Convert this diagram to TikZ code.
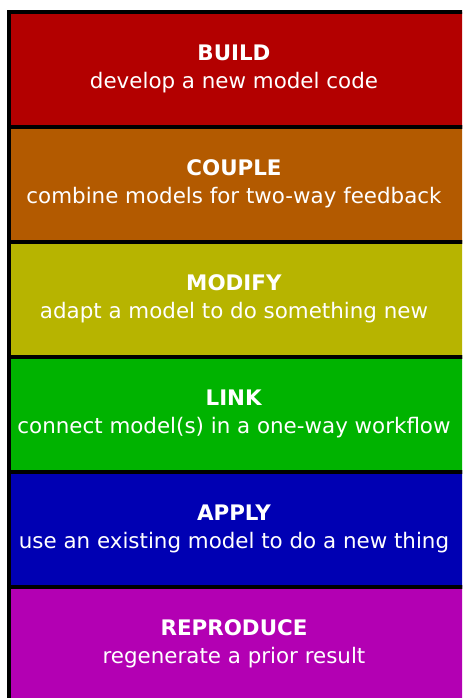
\documentclass[tikz,border=0pt]{standalone}
\usepackage{fontspec}
\setmainfont{DejaVu Sans}
\usepackage{tikz}
\definecolor{buildred}{RGB}{179,0,0}
\definecolor{coupleorange}{RGB}{179,90,0}
\definecolor{modifyyellow}{RGB}{183,180,0}
\definecolor{linkgreen}{RGB}{0,179,0}
\definecolor{applyblue}{RGB}{0,0,179}
\definecolor{reproducepurple}{RGB}{179,0,179}

\begin{document}
\begin{tikzpicture}[x=0.5pt, y=-0.5pt,
    layertext/.style={text=white, align=center, font=\fontsize{10.7}{14}\selectfont}]
      \clip (0, 0) rectangle (462, 698);
      \draw[line width=2.2pt, fill=buildred] (9, 11.75) rectangle (480, 126.75);
      \node[layertext] (build) at (234, 69.25) {\textbf{BUILD}\\develop a new model code};
      \draw[line width=2.2pt, fill=coupleorange] (9, 126.75) rectangle (480, 241.75);
      \node[layertext] (couple) at (234, 184.25) {\textbf{COUPLE}\\combine models for two-way feedback};
      \draw[line width=2.2pt, fill=modifyyellow] (9, 241.75) rectangle (480, 356.75);
      \node[layertext] (modify) at (234, 299.25) {\textbf{MODIFY}\\adapt a model to do something new};
      \draw[line width=2.2pt, fill=linkgreen] (9, 356.75) rectangle (480, 471.75);
      \node[layertext] (link) at (234, 414.25) {\textbf{LINK}\\connect model(s) in a one-way workflow};
      \draw[line width=2.2pt, fill=applyblue] (9, 471.75) rectangle (480, 586.75);
      \node[layertext] (apply) at (234, 529.25) {\textbf{APPLY}\\use an existing model to do a new thing};
      \draw[line width=2.2pt, fill=reproducepurple] (9, 586.75) rectangle (480, 701.75);
      \node[layertext] (reproduce) at (234, 644.25) {\textbf{REPRODUCE}\\regenerate a prior result};
    \end{tikzpicture}
\end{document}
